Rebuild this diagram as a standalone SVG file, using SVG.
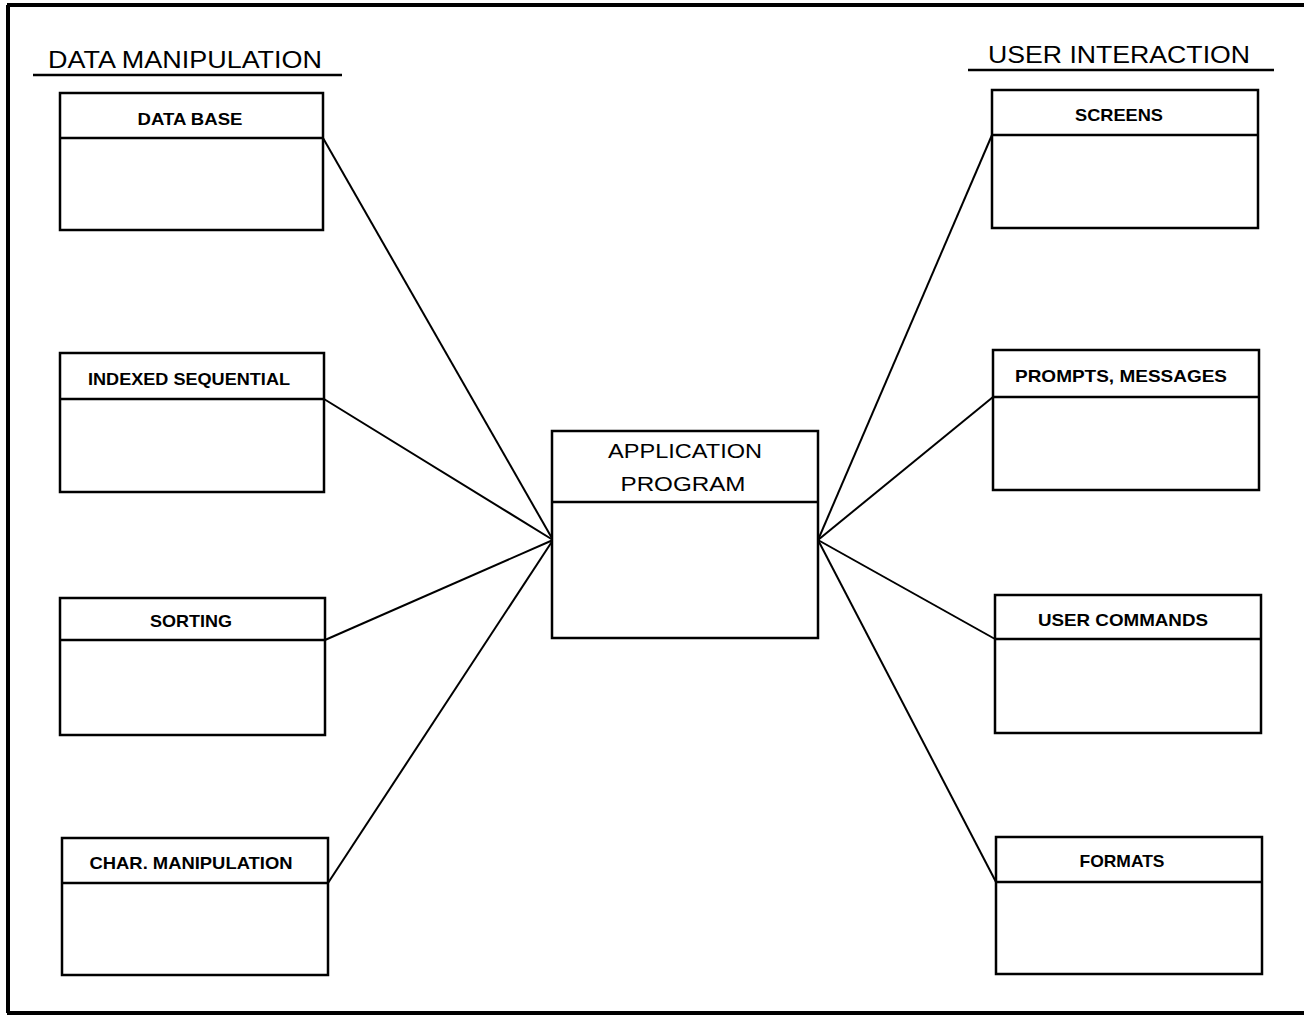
<svg xmlns="http://www.w3.org/2000/svg" width="1304" height="1015" viewBox="0 0 1304 1015">
<style>
.box{fill:#fff;stroke:#000;stroke-width:2.5}
.div{stroke:#000;stroke-width:2.5}
.lbl{font-family:"Liberation Sans","DejaVu Sans",sans-serif;font-weight:bold;font-size:17px;fill:#000;text-anchor:middle}
.hdr{font-family:"Liberation Sans","DejaVu Sans",sans-serif;font-size:23px;fill:#000}
.big{font-family:"Liberation Sans","DejaVu Sans",sans-serif;font-size:21px;fill:#000;text-anchor:middle}
.con line{stroke:#000;stroke-width:2}
</style>
<rect x="0" y="0" width="1304" height="1015" fill="#fff"/>
<g id="frame" fill="none" stroke="#000" stroke-width="4">
<line x1="7" y1="5" x2="1304" y2="5"/>
<line x1="8" y1="5" x2="8" y2="1013"/>
<line x1="7" y1="1013" x2="1304" y2="1013"/>
</g>
<g id="header-left">
<text class="hdr" x="48" y="68" textLength="274" lengthAdjust="spacingAndGlyphs">DATA MANIPULATION</text>
<line x1="33" y1="75" x2="342" y2="75" stroke="#000" stroke-width="2.5"/>
</g>
<g id="header-right">
<text class="hdr" x="988" y="63" textLength="262" lengthAdjust="spacingAndGlyphs">USER INTERACTION</text>
<line x1="968" y1="70" x2="1274" y2="70" stroke="#000" stroke-width="2.5"/>
</g>
<g id="connectors" class="con">
<line x1="323" y1="138" x2="553" y2="540"/>
<line x1="324" y1="399" x2="553" y2="540"/>
<line x1="325" y1="640" x2="553" y2="540"/>
<line x1="328" y1="883" x2="553" y2="540"/>
<line x1="992" y1="135" x2="818" y2="540"/>
<line x1="993" y1="397" x2="818" y2="540"/>
<line x1="995" y1="639" x2="818" y2="540"/>
<line x1="996" y1="882" x2="818" y2="540"/>
</g>
<g id="data-base">
<rect class="box" x="60" y="93" width="263" height="137"/>
<line class="div" x1="60" y1="138" x2="323" y2="138"/>
<text class="lbl" x="190" y="125" textLength="105" lengthAdjust="spacingAndGlyphs">DATA BASE</text>
</g>
<g id="indexed-sequential">
<rect class="box" x="60" y="353" width="264" height="139"/>
<line class="div" x1="60" y1="399" x2="324" y2="399"/>
<text class="lbl" x="189" y="385" textLength="202" lengthAdjust="spacingAndGlyphs">INDEXED SEQUENTIAL</text>
</g>
<g id="sorting">
<rect class="box" x="60" y="598" width="265" height="137"/>
<line class="div" x1="60" y1="640" x2="325" y2="640"/>
<text class="lbl" x="191" y="627" textLength="82" lengthAdjust="spacingAndGlyphs">SORTING</text>
</g>
<g id="char-manipulation">
<rect class="box" x="62" y="838" width="266" height="137"/>
<line class="div" x1="62" y1="883" x2="328" y2="883"/>
<text class="lbl" x="191" y="869" textLength="203" lengthAdjust="spacingAndGlyphs">CHAR. MANIPULATION</text>
</g>
<g id="application-program">
<rect class="box" x="552" y="431" width="266" height="207"/>
<line class="div" x1="552" y1="502" x2="818" y2="502"/>
<text class="big" x="685" y="458" textLength="154" lengthAdjust="spacingAndGlyphs">APPLICATION</text>
<text class="big" x="683" y="491" textLength="125" lengthAdjust="spacingAndGlyphs">PROGRAM</text>
</g>
<g id="screens">
<rect class="box" x="992" y="90" width="266" height="138"/>
<line class="div" x1="992" y1="135" x2="1258" y2="135"/>
<text class="lbl" x="1119" y="121" textLength="88" lengthAdjust="spacingAndGlyphs">SCREENS</text>
</g>
<g id="prompts-messages">
<rect class="box" x="993" y="350" width="266" height="140"/>
<line class="div" x1="993" y1="397" x2="1259" y2="397"/>
<text class="lbl" x="1121" y="382" textLength="212" lengthAdjust="spacingAndGlyphs">PROMPTS, MESSAGES</text>
</g>
<g id="user-commands">
<rect class="box" x="995" y="595" width="266" height="138"/>
<line class="div" x1="995" y1="639" x2="1261" y2="639"/>
<text class="lbl" x="1123" y="626" textLength="170" lengthAdjust="spacingAndGlyphs">USER COMMANDS</text>
</g>
<g id="formats">
<rect class="box" x="996" y="837" width="266" height="137"/>
<line class="div" x1="996" y1="882" x2="1262" y2="882"/>
<text class="lbl" x="1122" y="867" textLength="85" lengthAdjust="spacingAndGlyphs">FORMATS</text>
</g>
</svg>
